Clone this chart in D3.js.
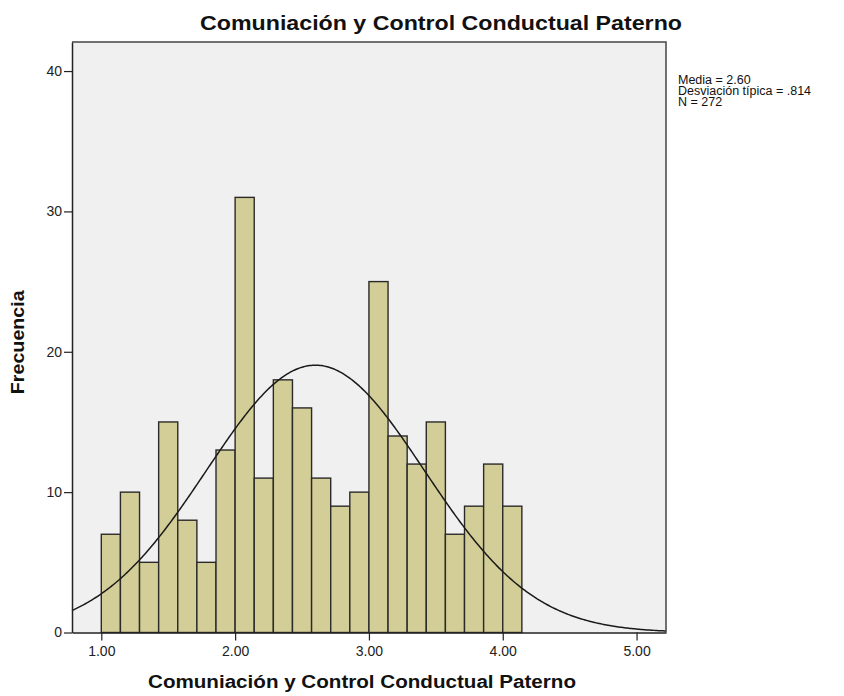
<!DOCTYPE html>
<meta charset="utf-8">
<style>
body { margin: 0; background: #fff; }
svg text { font-family: Arial, "Liberation Sans", sans-serif; }
.tick text { fill: #222; font-size: 14px; }
</style>
<svg width="844" height="696"></svg>
<script src="https://d3js.org/d3.v7.min.js"></script>
<script>

// histogram bins (width 1/7, starting at 1.00)
var binStart = 1.0,
    binWidth = 1 / 7;
var counts = [7, 10, 5, 15, 8, 5, 13, 31, 11, 18, 16, 11, 9, 10, 25, 14, 12, 15, 7, 9, 12, 9];
var xTicks = [1, 2, 3, 4, 5];
var yTicks = [0, 10, 20, 30, 40];
var stats = ["Media = 2.60", "Desviación típica = .814", "N = 272"];
var mean = 2.60, sd = 0.814, n = 272;

var svg = d3.select("svg"),
    plotL = 72, plotR = 666, plotT = 42, plotB = 632.5;

var x = d3.scaleLinear().domain([0.781, 5.22]).range([plotL, plotR]);
var y = d3.scaleLinear().domain([0, 42.07]).range([plotB, plotT]);

// plot background
svg.append("rect")
    .attr("x", plotL).attr("y", plotT)
    .attr("width", plotR - plotL).attr("height", plotB - plotT)
    .attr("fill", "#f0f0f0");

// bars
svg.append("g").selectAll("rect")
  .data(counts)
  .enter().append("rect")
    .attr("x", function(d, i) { return x(binStart + i * binWidth); })
    .attr("y", function(d) { return y(d); })
    .attr("width", function(d, i) { return x(binStart + (i + 1) * binWidth) - x(binStart + i * binWidth); })
    .attr("height", function(d) { return plotB - y(d); })
    .attr("fill", "#d3ce97")
    .attr("stroke", "#2a2a2a")
    .attr("stroke-width", 1.4);

// normal curve
var curvePts = d3.range(0, 401).map(function(i) {
    var v = x.domain()[0] + (x.domain()[1] - x.domain()[0]) * i / 400;
    var z = (v - mean) / sd;
    return [v, n * binWidth / (sd * Math.sqrt(2 * Math.PI)) * Math.exp(-0.5 * z * z)];
});
svg.append("path")
    .datum(curvePts)
    .attr("fill", "none")
    .attr("stroke", "#1a1a1a")
    .attr("stroke-width", 1.5)
    .attr("d", d3.line().x(function(d) { return x(d[0]); }).y(function(d) { return y(d[1]); }));

// frame (top and right)
svg.append("path")
    .attr("d", "M" + plotL + "," + plotT + "H" + plotR + "V" + plotB)
    .attr("fill", "none")
    .attr("stroke", "#444")
    .attr("stroke-width", 1.5);

// axes
var xAxis = svg.append("g")
    .attr("transform", "translate(0," + plotB + ")")
    .call(d3.axisBottom(x).tickValues(xTicks).tickSizeInner(8).tickSizeOuter(0).tickPadding(6).tickFormat(d3.format(".2f")));
var yAxis = svg.append("g")
    .attr("transform", "translate(" + plotL + ",0)")
    .call(d3.axisLeft(y).tickValues(yTicks).tickSizeInner(8).tickSizeOuter(0).tickPadding(2));
[xAxis, yAxis].forEach(function(a) {
    a.select(".domain").attr("stroke", "#222").attr("stroke-width", 1.5);
    a.selectAll(".tick line").attr("stroke", "#222").attr("stroke-width", 1.2);
});

// titles
svg.append("text")
    .attr("x", 441).attr("y", 30)
    .attr("text-anchor", "middle")
    .attr("font-weight", "bold")
    .attr("font-size", 21)
    .attr("textLength", 482).attr("lengthAdjust", "spacingAndGlyphs")
    .attr("fill", "#111")
    .text("Comuniación y Control Conductual Paterno");

svg.append("text")
    .attr("x", 362).attr("y", 688)
    .attr("text-anchor", "middle")
    .attr("font-weight", "bold")
    .attr("font-size", 18)
    .attr("textLength", 428).attr("lengthAdjust", "spacingAndGlyphs")
    .attr("fill", "#111")
    .text("Comuniación y Control Conductual Paterno");

svg.append("text")
    .attr("transform", "translate(24," + ((plotT + plotB) / 2 + 5) + ") rotate(-90)")
    .attr("text-anchor", "middle")
    .attr("font-weight", "bold")
    .attr("font-size", 18)
    .attr("textLength", 104).attr("lengthAdjust", "spacingAndGlyphs")
    .attr("fill", "#111")
    .text("Frecuencia");

// stats legend
svg.append("g").selectAll("text")
  .data(stats)
  .enter().append("text")
    .attr("x", 678)
    .attr("y", function(d, i) { return 84 + i * 11; })
    .attr("font-size", 12.5)
    .attr("fill", "#111")
    .text(function(d) { return d; });
</script>
